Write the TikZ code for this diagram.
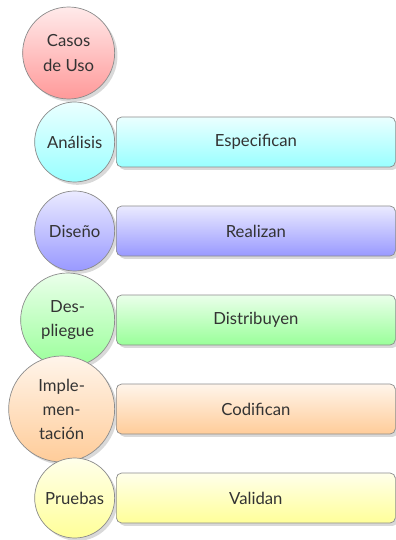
\documentclass[tikz,border=0pt]{standalone}
\usepackage{fontspec}
\setmainfont{Lato}
\usepackage{tikz}
\usetikzlibrary{shadows}

\tikzset{
    etapa/.style={circle, draw=black!45, inner sep=0pt, align=center, text=black!80,
        anchor=east, drop shadow={shadow xshift=1.6pt, shadow yshift=-1.6pt, opacity=0.3}},
    accion/.style={rectangle, rounded corners=3pt, draw=black!45, text=black!80,
        minimum width=5.58cm, minimum height=1cm, anchor=west,
        drop shadow={shadow xshift=1.6pt, shadow yshift=-1.6pt, opacity=0.3}}
}

\begin{document}
\begin{tikzpicture}[font=\fontsize{9.5}{13.7}\selectfont]
    \useasboundingbox (0, 0) rectangle (7.92, -10.8);

    \node[etapa, minimum size=1.84cm, top color=red!8, bottom color=red!40] at (2.30, -1.06) (c1) {Casos\\de Uso};

    \node[etapa, minimum size=1.6cm, top color=cyan!8, bottom color=cyan!40] at (2.30, -2.84) (c2) {Análisis};
    \node[accion, top color=cyan!8, bottom color=cyan!40] at (2.32, -2.84) (d2) {Especifican};

    \node[etapa, minimum size=1.6cm, top color=blue!8, bottom color=blue!40] at (2.30, -4.62) (c3) {Diseño};
    \node[accion, top color=blue!8, bottom color=blue!40] at (2.32, -4.62) (d3) {Realizan};

    \node[etapa, minimum size=1.88cm, top color=green!8, bottom color=green!40] at (2.30, -6.40) (c4) {Des-\\pliegue};
    \node[accion, top color=green!8, bottom color=green!40] at (2.32, -6.40) (d4) {Distribuyen};

    \node[etapa, minimum size=2.12cm, top color=orange!8, bottom color=orange!40] at (2.30, -8.18) (c5) {Imple-\\men-\\tación};
    \node[accion, top color=orange!8, bottom color=orange!40] at (2.32, -8.18) (d5) {Codifican};

    \node[etapa, minimum size=1.6cm, top color=yellow!8, bottom color=yellow!40] at (2.30, -9.96) (c6) {Pruebas};
    \node[accion, top color=yellow!8, bottom color=yellow!40] at (2.32, -9.96) (d6) {Validan};
\end{tikzpicture}
\end{document}
